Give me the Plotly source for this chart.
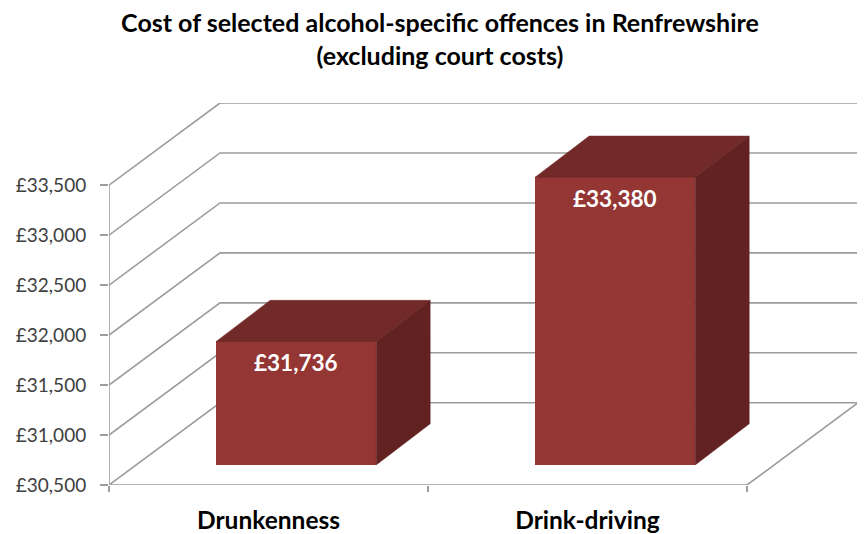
import plotly.graph_objects as go

categories = ["Drunkenness", "Drink-driving"]
values = [31736, 33380]
y_ticks = [30500, 31000, 31500, 32000, 32500, 33000, 33500]
y_labels = ["£30,500", "£31,000", "£31,500", "£32,000", "£32,500", "£33,000", "£33,500"]

FONT = "Lato"
W, H = 857, 526                          # the page adds an 8px margin
L, R, T, B = 101, 850, 95, 477           # plot box in pixels
PX_PER_CAT = 319.0
PX_PER_GBP = 299.0 / 3000
DEPTH_X = 111 / PX_PER_CAT               # whole floor depth, in category units
DEPTH_Y = 82 / PX_PER_GBP                # whole floor depth, in pounds
BAR_W = 160 / PX_PER_CAT
BAR_OFFSET = -52.3 / PX_PER_CAT
BAR_NEAR = 20 / 82                       # depth at which bar front stands
BAR_DEPTH_X = 54 / PX_PER_CAT            # depth of the bar itself
BAR_DEPTH_Y = 41 / PX_PER_GBP

x_range = [-0.5, 1.5 + DEPTH_X]
y_range = [y_ticks[0], y_ticks[-1] + DEPTH_Y]
LINE = "#9C9C9C"
FRONT, TOP, SIDE = "#943634", "#722A29", "#622222"

fig = go.Figure()

# --- Walls and floor (base subplot, under the bars) ---
def wall(xs, ys):
    fig.add_trace(go.Scatter(x=xs, y=ys, mode="lines", line=dict(color=LINE, width=1.6),
                             hoverinfo="skip", showlegend=False, cliponaxis=False,
                             xaxis="x", yaxis="y"))

for v in y_ticks:
    wall([-0.5, -0.5 + DEPTH_X, 1.5 + DEPTH_X], [v, v + DEPTH_Y, v + DEPTH_Y])
wall([-0.5, -0.5], [y_ticks[0], y_ticks[-1]])
wall([-0.5, 1.5, 1.5 + DEPTH_X], [y_ticks[0], y_ticks[0], y_ticks[0] + DEPTH_Y])

# --- Bar fronts on the category axis ---
shift = BAR_NEAR * DEPTH_Y
base = y_ticks[0] + shift
fig.add_trace(go.Bar(x=categories, y=[v - y_ticks[0] for v in values], base=base,
                     width=BAR_W, offset=BAR_OFFSET, marker=dict(color=FRONT, line=dict(width=0)),
                     hoverinfo="skip", showlegend=False, xaxis="x2", yaxis="y"))

# --- Bar tops and sides ---
dx, dy = BAR_DEPTH_X, BAR_DEPTH_Y
for i, v in enumerate(values):
    left = i + BAR_OFFSET
    right = left + BAR_W
    top = v + shift
    fig.add_trace(go.Scatter(x=[left, right, right + dx, left + dx, left],
                             y=[top, top, top + dy, top + dy, top],
                             mode="lines", fill="toself", fillcolor=TOP, line=dict(color=TOP, width=0.5),
                             hoverinfo="skip", showlegend=False, cliponaxis=False,
                             xaxis="x3", yaxis="y"))
    fig.add_trace(go.Scatter(x=[right, right + dx, right + dx, right, right],
                             y=[top, top + dy, base + dy, base, top],
                             mode="lines", fill="toself", fillcolor=SIDE, line=dict(color=SIDE, width=0.5),
                             hoverinfo="skip", showlegend=False, cliponaxis=False,
                             xaxis="x3", yaxis="y"))

annotations = [dict(x=c, y=v + shift, xref="x2", yref="y", yshift=-21,
                    xshift=(BAR_OFFSET + BAR_W / 2) * PX_PER_CAT, showarrow=False,
                    text=f"£{v:,}", font=dict(family=FONT, size=22.5, color="white", weight=700))
               for c, v in zip(categories, values)]

fig.update_layout(
    width=W, height=H, margin=dict(l=L, r=W - R, t=T, b=H - B, pad=0, autoexpand=False),
    paper_bgcolor="white", plot_bgcolor="white", showlegend=False, bargap=0,
    title=dict(text="Cost of selected alcohol-specific offences in Renfrewshire<br>(excluding court costs)",
               x=432 / W, xanchor="center", y=1 - 24 / H, yanchor="top",
               font=dict(family=FONT, size=25, color="black", weight=700)),
    annotations=annotations,
    xaxis=dict(type="linear", range=x_range, visible=False),
    xaxis2=dict(type="category", overlaying="x", anchor="y", side="bottom", range=x_range,
                tickson="boundaries", ticks="outside", ticklen=6, tickwidth=1.6, tickcolor=LINE,
                showgrid=False, zeroline=False, showline=False, categoryorder="array",
                categoryarray=categories, ticklabelstandoff=18, automargin=False,
                tickfont=dict(family=FONT, size=24.5, color="black", weight=700)),
    xaxis3=dict(type="linear", overlaying="x", anchor="y", range=x_range, visible=False),
    yaxis=dict(range=y_range, tickmode="array", tickvals=y_ticks, ticktext=y_labels,
               ticks="outside", ticklen=8, tickwidth=1.6, tickcolor=LINE, showgrid=False,
               zeroline=False, showline=False, ticklabelstandoff=10, automargin=False,
               tickfont=dict(family=FONT, size=19, color="#404040")),
)
fig.write_html("out.html")
